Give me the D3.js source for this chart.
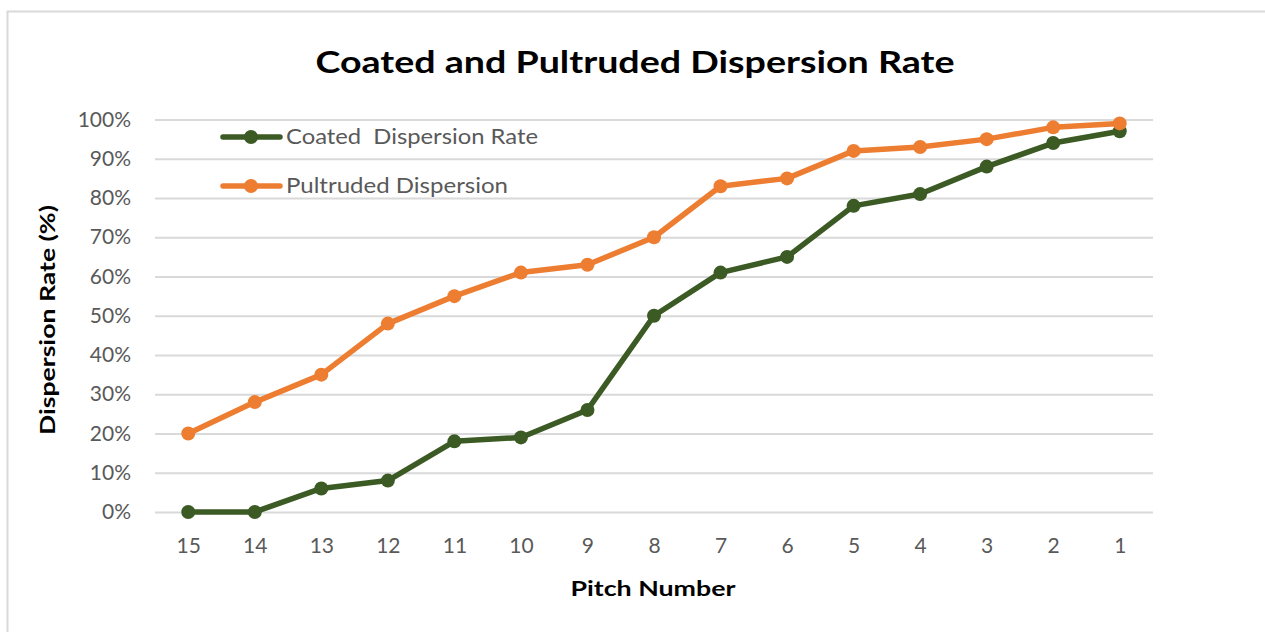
<!DOCTYPE html>
<html>
<head>
<meta charset="utf-8">
<script src="https://cdn.jsdelivr.net/npm/d3@7"></script>
<style>
  html, body { margin: 0; padding: 0; background: #fff; }
  svg { display: block; }
  text { font-family: Lato, "Open Sans", sans-serif; }
</style>
</head>
<body>
<svg id="chart" width="1265" height="632"></svg>
<script>
// Pitch numbers, shown in descending order along the x axis
const pitches = ["15", "14", "13", "12", "11", "10", "9", "8", "7", "6", "5", "4", "3", "2", "1"];
// Dispersion rates (%) per pitch
const coatedRate = [0, 0, 6, 8, 18, 19, 26, 50, 61, 65, 78, 81, 88, 94, 97];
const pultrudedRate = [20, 28, 35, 48, 55, 61, 63, 70, 83, 85, 92, 93, 95, 98, 99];
const yTicks = [0, 10, 20, 30, 40, 50, 60, 70, 80, 90, 100];
const seriesNames = ["Coated  Dispersion Rate", "Pultruded Dispersion"];

const colors = ["#3b5a24", "#ed7d31"];
const svg = d3.select("#chart");

// Chart frame
svg.append("rect")
  .attr("x", 7.5).attr("y", 11.5)
  .attr("width", 1400).attr("height", 700)
  .attr("fill", "none").attr("stroke", "#d9d9d9").attr("stroke-width", 2);

const plot = { left: 155, right: 1153, top: 119.5, bottom: 512 };

const x = d3.scalePoint().domain(pitches).range([plot.left, plot.right]).padding(0.5);
const y = d3.scaleLinear().domain([0, 100]).range([plot.bottom, plot.top]);

// Horizontal gridlines and y tick labels
const yAxis = d3.axisLeft(y).tickValues(yTicks).tickSize(-(plot.right - plot.left))
  .tickFormat(d => d + "%").tickPadding(24);
const gy = svg.append("g").attr("transform", `translate(${plot.left},0)`).call(yAxis);
gy.select(".domain").remove();
gy.selectAll(".tick line").attr("stroke", "#d9d9d9").attr("stroke-width", 2);
gy.selectAll(".tick text").attr("fill", "#595959").attr("font-size", 21)
  .attr("font-family", "Lato, 'Open Sans', sans-serif");

// X tick labels
const xAxis = d3.axisBottom(x).tickSize(0).tickPadding(26);
const gx = svg.append("g").attr("transform", `translate(0,${plot.bottom})`).call(xAxis);
gx.select(".domain").remove();
gx.selectAll(".tick text").attr("fill", "#595959").attr("font-size", 21)
  .attr("font-family", "Lato, 'Open Sans', sans-serif");

// Series lines and markers
const series = [coatedRate, pultrudedRate];
const line = d3.line().x((d, i) => x(pitches[i])).y(d => y(d));
series.forEach((vals, si) => {
  const g = svg.append("g");
  g.append("path").datum(vals)
    .attr("d", line).attr("fill", "none")
    .attr("stroke", colors[si]).attr("stroke-width", 5.5)
    .attr("stroke-linejoin", "round").attr("stroke-linecap", "round");
  g.selectAll("circle").data(vals).join("circle")
    .attr("cx", (d, i) => x(pitches[i])).attr("cy", d => y(d))
    .attr("r", 7).attr("fill", colors[si]);
});

// Legend
const legendY = [137, 186];
seriesNames.forEach((name, i) => {
  const g = svg.append("g");
  g.append("line").attr("x1", 223).attr("x2", 280)
    .attr("y1", legendY[i]).attr("y2", legendY[i])
    .attr("stroke", colors[i]).attr("stroke-width", 5.5).attr("stroke-linecap", "round");
  g.append("circle").attr("cx", 251).attr("cy", legendY[i]).attr("r", 7).attr("fill", colors[i]);
  g.append("text").attr("x", 286).attr("y", legendY[i] + 7)
    .attr("fill", "#595959").attr("font-size", 21)
    .style("white-space", "pre")
    .attr("textLength", i === 0 ? 252 : 222).attr("lengthAdjust", "spacingAndGlyphs")
    .text(name);
});

// Title
svg.append("text").attr("x", 635).attr("y", 73)
  .attr("text-anchor", "middle").attr("font-size", 31).attr("font-weight", "bold")
  .attr("fill", "#000").attr("textLength", 639).attr("lengthAdjust", "spacingAndGlyphs")
  .text("Coated and Pultruded Dispersion Rate");

// Axis titles
svg.append("text").attr("x", 653).attr("y", 596)
  .attr("text-anchor", "middle").attr("font-size", 21).attr("font-weight", "bold")
  .attr("fill", "#000").attr("textLength", 165).attr("lengthAdjust", "spacingAndGlyphs")
  .text("Pitch Number");

svg.append("text").attr("transform", "translate(55,320) rotate(-90)")
  .attr("text-anchor", "middle").attr("font-size", 21).attr("font-weight", "bold")
  .attr("fill", "#000").attr("textLength", 230).attr("lengthAdjust", "spacingAndGlyphs")
  .text("Dispersion Rate (%)");
</script>
</body>
</html>
